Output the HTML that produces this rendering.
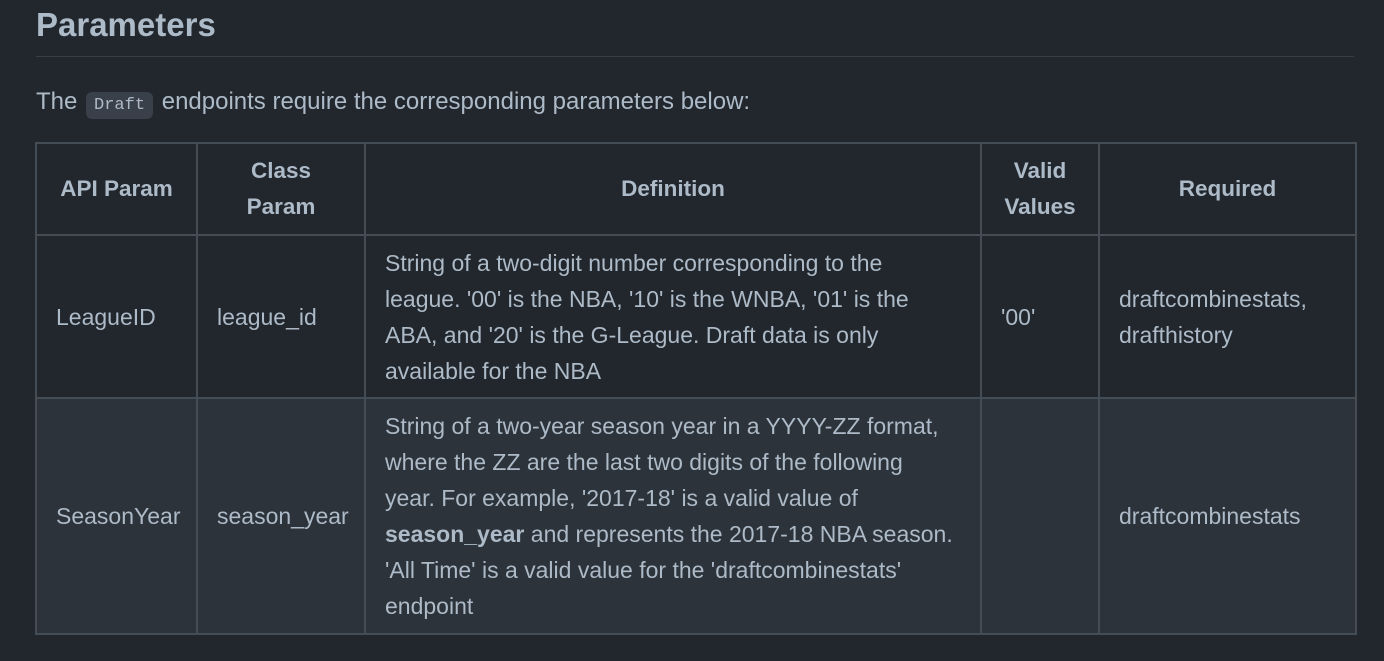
<!DOCTYPE html>
<html><head><meta charset="utf-8"><style>
body{margin:0;width:1384px;height:661px;background:#22272e;color:#adbac7;font-family:"Liberation Sans",sans-serif;overflow:hidden;position:relative}
h2{position:absolute;left:36px;top:5px;margin:0;font-size:33px;font-weight:bold;line-height:40px}
.hr{position:absolute;left:36px;top:56px;width:1318px;height:1px;background:#373e47}
p{position:absolute;left:36px;top:88px;margin:0;font-size:24px;line-height:28px}
code{font-family:"Liberation Mono",monospace;font-size:17px;background:#3a4049;border-radius:6px;padding:4px 8px;margin:0 2px}
table{position:absolute;left:35px;top:142px;border-collapse:collapse;table-layout:fixed;width:1320px;font-size:23px;line-height:36px}
td,th{border:2px solid #444c56;padding:0 0 0 19px;vertical-align:middle;text-align:left;overflow:hidden;white-space:nowrap}
th{font-weight:bold;text-align:center;height:90px;padding:0;font-size:22.5px}
tr.r1 td{height:161px}
tr.r2 td{height:234px;background:#2d333b}
</style></head><body>
<h2>Parameters</h2>
<div class="hr"></div>
<p>The <code>Draft</code> endpoints require the corresponding parameters below:</p>
<table>
<colgroup><col style="width:161px"><col style="width:168px"><col style="width:616px"><col style="width:118px"><col style="width:257px"></colgroup>
<tr>
<th>API Param</th>
<th>Class<br>Param</th>
<th>Definition</th>
<th>Valid<br>Values</th>
<th>Required</th>
</tr>
<tr class="r1">
<td>LeagueID</td>
<td>league_id</td>
<td>String of a two-digit number corresponding to the<br>league. '00' is the NBA, '10' is the WNBA, '01' is the<br>ABA, and '20' is the G-League. Draft data is only<br>available for the NBA</td>
<td>'00'</td>
<td>draftcombinestats,<br>drafthistory</td>
</tr>
<tr class="r2">
<td>SeasonYear</td>
<td>season_year</td>
<td>String of a two-year season year in a YYYY-ZZ format,<br>where the ZZ are the last two digits of the following<br>year. For example, '2017-18' is a valid value of<br><b>season_year</b> and represents the 2017-18 NBA season.<br>'All Time' is a valid value for the 'draftcombinestats'<br>endpoint</td>
<td></td>
<td>draftcombinestats</td>
</tr>
</table>
</body></html>
